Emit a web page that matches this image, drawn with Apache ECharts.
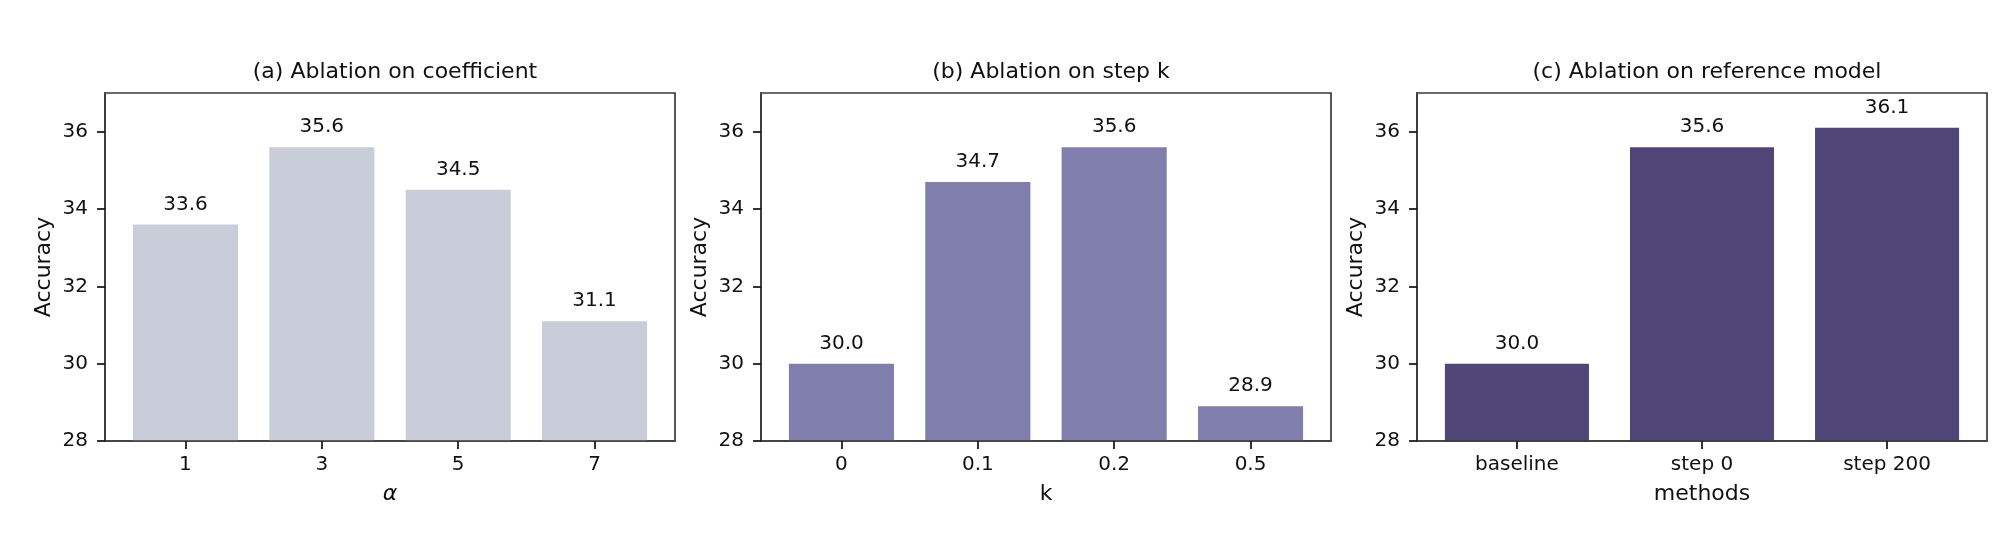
<!DOCTYPE html>
<html>
<head>
	<meta charset="UTF-8" />
	<title>Ablation</title>
	<script src="https://cdn.jsdelivr.net/npm/echarts@6/dist/echarts.min.js"></script>
	<style type="text/css">
		body { margin: 0; background-color: #ffffff; }
		#chart { width: 2015px; height: 535px; }
	</style>
</head>
<body>
	<div id="chart"></div>

	<script>
		//--------------------------- data ---------------------------//

		const alphaCats = ['1', '3', '5', '7'];
		const alphaVals = [33.6, 35.6, 34.5, 31.1];

		const kCats = ['0', '0.1', '0.2', '0.5'];
		const kVals = [30.0, 34.7, 35.6, 28.9];

		const refCats = ['baseline', 'step 0', 'step 200'];
		const refVals = [30.0, 35.6, 36.1];

		const yTicks = [28, 30, 32, 34, 36];

		const titles = ['(a) Ablation on coefficient', '(b) Ablation on step k', '(c) Ablation on reference model'];
		const xNames = ['\u03b1', 'k', 'methods'];
		const colors = ['#c9cdd9', '#7f7eac', '#4f4677'];

		//--------------------------- layout ---------------------------//

		const FONT = 'DejaVu Sans';
		const gridLefts = [105, 761, 1417];
		const gridW = 570, gridTop = 93, gridH = 348;

		const panels = [
			{ cats: alphaCats, vals: alphaVals },
			{ cats: kCats, vals: kVals },
			{ cats: refCats, vals: refVals }
		];

		var chart = echarts.init(document.getElementById('chart'), null, { renderer: 'canvas' });

		var option = {
			backgroundColor: '#ffffff',
			animation: false,
			title: [], grid: [], xAxis: [], yAxis: [], series: []
		};

		panels.forEach(function (p, i) {
			const n = p.cats.length;
			// matplotlib style margins: bars width 0.8, 5% padding
			const pad = 0.05 * (n - 1 + 0.8);
			const xmin = -0.4 - pad, xmax = n - 1 + 0.4 + pad;
			const unit = gridW / (xmax - xmin);
			const idx = p.cats.map((c, j) => j);

			option.title.push({
				text: titles[i],
				left: gridLefts[i] + gridW / 2,
				top: 56,
				textAlign: 'center',
				textStyle: { fontFamily: FONT, fontSize: 22, fontWeight: 'normal', color: '#111' }
			});

			option.grid.push({
				left: gridLefts[i], top: gridTop, width: gridW, height: gridH,
				show: true, borderColor: '#3a3a3a', borderWidth: 1.7, backgroundColor: 'transparent'
			});

			option.xAxis.push({
				type: 'value', gridIndex: i, min: xmin, max: xmax, z: 5,
				name: xNames[i], nameLocation: 'middle', nameGap: 42,
				nameTextStyle: { fontFamily: FONT, fontSize: 22, color: '#111', fontStyle: i === 0 ? 'italic' : 'normal' },
				axisLine: { show: true, onZero: false, lineStyle: { color: '#3a3a3a', width: 1.7 } },
				axisTick: { show: true, customValues: idx, length: 8, lineStyle: { color: '#111', width: 1.7 } },
				axisLabel: {
					customValues: idx, margin: 14,
					fontFamily: FONT, fontSize: 20, color: '#111',
					formatter: v => p.cats[Math.round(v)]
				},
				splitLine: { show: false }
			});

			option.yAxis.push({
				type: 'value', gridIndex: i, min: 28, max: 37, z: 5,
				name: 'Accuracy', nameLocation: 'middle', nameGap: 50,
				nameTextStyle: { fontFamily: FONT, fontSize: 22, color: '#111' },
				axisLine: { show: true, onZero: false, lineStyle: { color: '#3a3a3a', width: 1.7 } },
				axisTick: { show: true, customValues: yTicks, length: 8, lineStyle: { color: '#111', width: 1.7 } },
				axisLabel: { customValues: yTicks, margin: 17, fontFamily: FONT, fontSize: 20, color: '#111' },
				splitLine: { show: false }
			});

			option.series.push({
				type: 'bar', xAxisIndex: i, yAxisIndex: i,
				data: p.vals.map((v, j) => [j, v]),
				barWidth: 0.8 * unit - 4,
				itemStyle: { color: colors[i] },
				label: {
					show: true, position: 'top', distance: 10,
					fontFamily: FONT, fontSize: 20, color: '#111',
					formatter: d => d.value[1].toFixed(1)
				}
			});
		});

		chart.setOption(option);
	</script>
</body>
</html>
